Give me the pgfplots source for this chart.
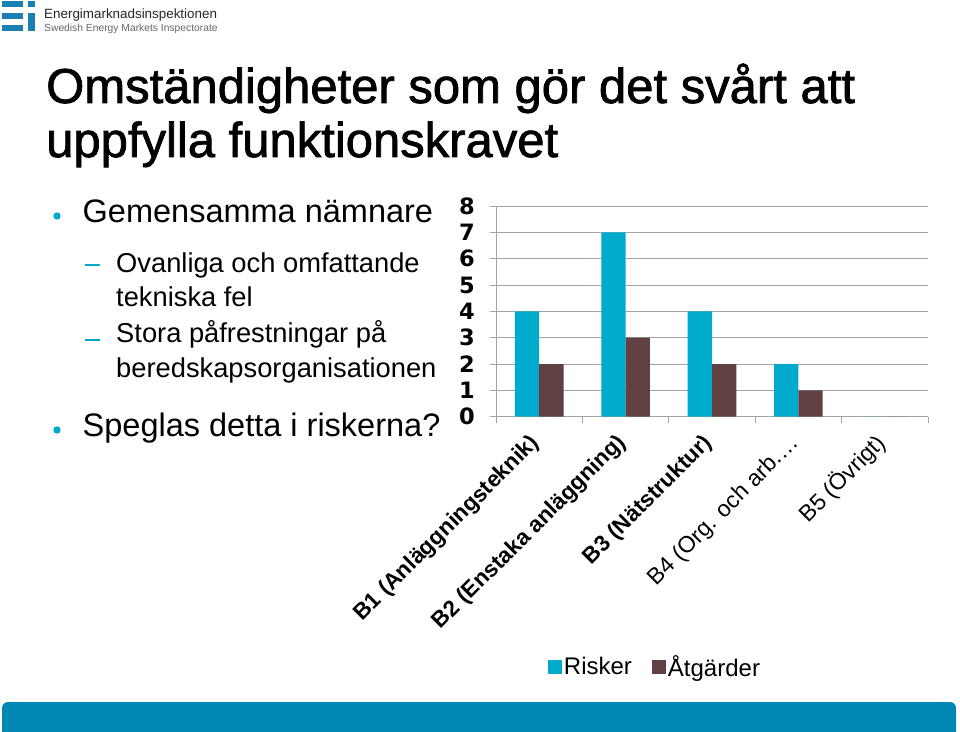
\documentclass[border=0pt]{standalone}
\usepackage{pgfplots}
\pgfplotsset{compat=1.18}
\usepackage{fontspec}
\setmainfont{Liberation Sans}
\newfontfamily\titlefont[FakeBold=1.5]{Liberation Sans}
\newfontfamily\tickfont{DejaVu Sans}
\definecolor{ecyan}{RGB}{0,170,204}
\definecolor{ebrown}{RGB}{96,64,64}
\definecolor{ebar}{RGB}{0,136,180}
\definecolor{elogo}{RGB}{25,128,178}
\definecolor{egrid}{RGB}{165,165,165}

\pgfplotstableread{
x risker atgarder
0.5 4 2
1.5 7 3
2.5 4 2
3.5 2 1
4.5 0 0
}\datatable

\begin{document}
\begin{tikzpicture}[x=1pt,y=1pt]
\useasboundingbox (0,0) rectangle (960,731);
\fill[white] (0,0) rectangle (960,731);
% logo
\fill[elogo] (2,730) rectangle (23,724);
\fill[elogo] (2,718) rectangle (23,712);
\fill[elogo] (2,706) rectangle (23,700);
\fill[elogo] (28,730) rectangle (35,724);
\fill[elogo] (28,718) rectangle (35,700);
\node[anchor=base west, inner sep=0, text=black!85] at (44,712) {\fontsize{13.4}{16}\selectfont Energimarknadsinspektionen};
\node[anchor=base west, inner sep=0, text=black!60] at (44,699) {\fontsize{10.3}{12}\selectfont Swedish Energy Markets Inspectorate};
% title
\node[anchor=base west, inner sep=0] at (46,628) {\titlefont\fontsize{49}{58}\selectfont Omständigheter som gör det svårt att};
\node[anchor=base west, inner sep=0] at (46,574) {\titlefont\fontsize{49}{58}\selectfont uppfylla funktionskravet};
% bullets
\fill[ecyan] (57,515) circle (3.7);
\fill[ecyan] (57,301) circle (3.7);
\draw[ecyan, line width=2pt] (85,466) -- (100,466);
\draw[ecyan, line width=2pt] (85,391) -- (100,391);
\node[anchor=base west, inner sep=0] at (82.5,508) {\fontsize{32.5}{38}\selectfont Gemensamma nämnare};
\node[anchor=base west, inner sep=0] at (116,458) {\fontsize{27.3}{33}\selectfont Ovanliga och omfattande};
\node[anchor=base west, inner sep=0] at (116,424) {\fontsize{27.3}{33}\selectfont tekniska fel};
\node[anchor=base west, inner sep=0] at (116,388) {\fontsize{27.3}{33}\selectfont Stora påfrestningar på};
\node[anchor=base west, inner sep=0] at (116,353) {\fontsize{27.3}{33}\selectfont beredskapsorganisationen};
\node[anchor=base west, inner sep=0] at (82.5,294) {\fontsize{32.5}{38}\selectfont Speglas detta i riskerna?};
% bottom bar
\fill[ebar, rounded corners=6pt] (2,-10) rectangle (956,29);

\begin{axis}[
  at={(496pt,314.3pt)}, anchor=origin,
  scale only axis, width=432pt, height=210.7pt,
  xmin=0, xmax=5, ymin=0, ymax=8,
  axis lines*=left,
  axis line style={-, draw=egrid, line width=0.8pt},
  ytick={0,1,2,3,4,5,6,7,8},
  ymajorgrids,
  grid style={draw=egrid, line width=0.8pt},
  tick align=outside,
  major tick length=6pt,
  tick style={draw=egrid, line width=0.8pt},
  xtick={0,1,2,3,4,5},
  xticklabels={},
  extra x ticks={0.5,1.5,2.5,3.5,4.5},
  extra x tick labels={{\bfseries\fontsize{22.5}{26}\selectfont B1 (Anläggningsteknik)},{\bfseries\fontsize{22.5}{26}\selectfont B2 (Enstaka anläggning)},{\bfseries\fontsize{22.5}{26}\selectfont B3 (Nätstruktur)},{B4 (Org. och arb.…\hspace{-15pt}},B5 (Övrigt)},
  extra x tick style={major tick length=0pt},
  xticklabel style={xshift=-3pt, yshift=-23pt, rotate=45, anchor=east, inner sep=0pt, font=\fontsize{23}{26}\selectfont},
  /pgf/number format/assume math mode=true,
  yticklabel style={font=\tickfont\bfseries\fontsize{22.5}{26}\selectfont, anchor=east, inner sep=0pt, xshift=-15pt},
  legend style={at={(0.368,-1.188)}, anchor=center, draw=none, fill=none,
    legend columns=2, font=\fontsize{24}{28}\selectfont,
    /tikz/every even column/.append style={column sep=18pt}},
  legend image code/.code={\fill[#1] (0pt,-7pt) rectangle (14pt,7pt);},
]
\addplot[ybar, bar width=24.3pt, bar shift=-12.15pt, fill=ecyan, draw=none] table[x=x, y=risker] {\datatable};
\addplot[ybar, bar width=24.3pt, bar shift=12.15pt, fill=ebrown, draw=none] table[x=x, y=atgarder] {\datatable};
\legend{Risker, Åtgärder}
\end{axis}
\end{tikzpicture}
\end{document}
